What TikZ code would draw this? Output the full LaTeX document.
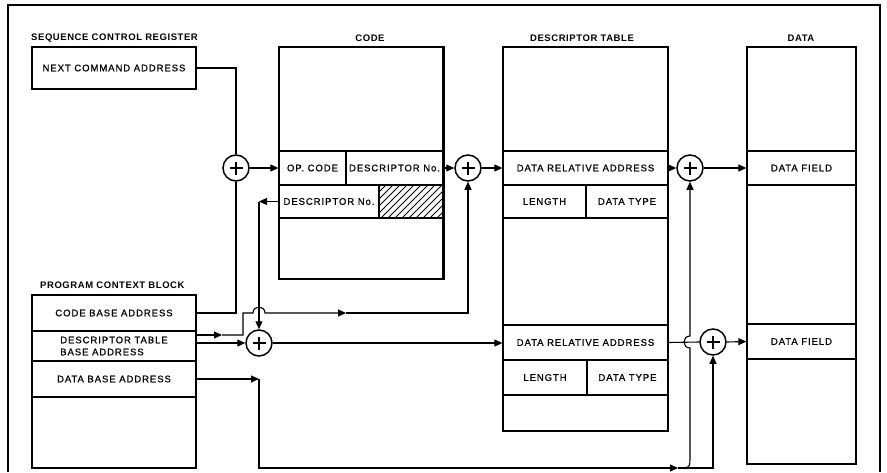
\documentclass[tikz,border=0pt]{standalone}
\usepackage{fontspec}
\setmainfont{Liberation Sans}
\newfontfamily\bodyfont{Liberation Sans}[LetterSpace=10,FakeBold=0.8]
\newfontfamily\titlefont{Liberation Sans}[LetterSpace=6]
\usetikzlibrary{arrows.meta}
\begin{document}
\begin{tikzpicture}[x=1pt,y=-1pt,
  box/.style={draw, line width=1.6pt, inner sep=0pt, font=\bodyfont\fontsize{9.5}{12}\selectfont, align=center},
  cell/.style={draw, line width=1.3pt, inner sep=0pt, font=\bodyfont\fontsize{9.5}{12}\selectfont, align=center},
  title/.style={inner sep=0pt, font=\titlefont\bfseries\fontsize{9.5}{11}\selectfont},
  conn/.style={line width=1.1pt},
  arr/.style={conn, -{Triangle[length=8pt,width=7pt]}},
  adder/.style={circle, draw, line width=1.5pt, minimum size=26pt, inner sep=0pt, fill=white,
    path picture={
      \draw[line width=1.8pt] ([xshift=-6.5pt]path picture bounding box.center) -- ([xshift=6.5pt]path picture bounding box.center);
      \draw[line width=1.8pt] ([yshift=-6.5pt]path picture bounding box.center) -- ([yshift=6.5pt]path picture bounding box.center);}}
]
\useasboundingbox (0,0) rectangle (887,472);
% frame
\draw[line width=1.6pt] (8,472) -- (8,5) -- (880,5) -- (880,472);

% titles
\node[title, anchor=west] (tscr) at (31,38) {SEQUENCE CONTROL REGISTER};
\node[title] (tcode) at (370,38) {CODE};
\node[title] (tdesc) at (582,38) {DESCRIPTOR TABLE};
\node[title] (tdata) at (801,38) {DATA};
\node[title, anchor=west] (tpcb) at (40,285) {PROGRAM CONTEXT BLOCK};

% sequence control register
\node[box, minimum width=164pt, minimum height=42pt] (nca) at (114,68) {NEXT COMMAND ADDRESS};

% code
\node[box, minimum width=164pt, minimum height=232pt] (code) at (361,163) {};
\node[cell, minimum width=67pt, minimum height=34pt] (opcode) at (312.5,168) {OP. CODE};
\node[cell, minimum width=97pt, minimum height=34pt] (descno1) at (394.5,168) {DESCRIPTOR No.};
\node[cell, minimum width=100pt, minimum height=33pt] (descno2) at (329,201.5) {DESCRIPTOR No.};
\node[cell, minimum width=64pt, minimum height=33pt] (hatch) at (411,201.5) {};
\begin{scope}
  \clip (hatch.south west) rectangle (hatch.north east);
  \foreach \k in {-40,-33,...,70}
    \draw[line width=0.8pt] ([xshift=\k pt]hatch.south west) -- ++(45:80pt);
\end{scope}
\draw[line width=1.3pt] (hatch.south west) rectangle (hatch.north east);
\draw[line width=1.6pt] (code.north east) -- (code.south east);

% descriptor table
\node[box, minimum width=165pt, minimum height=384pt] (desc) at (585.5,239) {};
\node[cell, minimum width=165pt, minimum height=34pt] (dra1) at (585.5,168) {DATA RELATIVE ADDRESS};
\node[cell, minimum width=83pt, minimum height=33pt] (len1) at (544.5,201.5) {LENGTH};
\node[cell, minimum width=82pt, minimum height=33pt] (dt1) at (627,201.5) {DATA TYPE};
\node[cell, minimum width=165pt, minimum height=35pt] (dra2) at (585.5,342.5) {DATA RELATIVE ADDRESS};
\node[cell, minimum width=84pt, minimum height=35pt] (len2) at (545,377.5) {LENGTH};
\node[cell, minimum width=81pt, minimum height=35pt] (dt2) at (627.5,377.5) {DATA TYPE};

% data
\node[box, minimum width=109pt, minimum height=417pt] (data) at (801.5,255.5) {};
\node[cell, minimum width=109pt, minimum height=34pt] (df1) at (801.5,168) {DATA FIELD};
\node[cell, minimum width=109pt, minimum height=35pt] (df2) at (801.5,341.5) {DATA FIELD};

% program context block
\node[box, minimum width=164pt, minimum height=173pt] (pcb) at (114,381.5) {};
\node[cell, minimum width=164pt, minimum height=36pt] (cba) at (114,313) {CODE BASE ADDRESS};
\node[cell, minimum width=164pt, minimum height=30pt, align=left] (dtba) at (114,346) {DESCRIPTOR TABLE\\BASE ADDRESS};
\node[cell, minimum width=164pt, minimum height=36pt] (dba) at (114,379) {DATA BASE ADDRESS};

% adders
\node[adder] (A1) at (236,168) {};
\node[adder] (A2) at (468,168) {};
\node[adder] (A3) at (690,168) {};
\node[adder] (A4) at (259,343) {};
\node[adder] (A5) at (713,342) {};

% coordinates
\coordinate (u1) at (222,335);
\coordinate (u2) at (243,335);
\coordinate (u3) at (243,313);
\coordinate (hopL) at (253,313);
\coordinate (hopR) at (265,313);
\coordinate (u4) at (346,313);
\coordinate (c2) at (259,201.5);
\coordinate (c3) at (259,379);
\coordinate (c4) at (259,468);
\coordinate (c5) at (678,468);
\coordinate (c6) at (713,468);
\coordinate (b1) at (690,456);
\coordinate (hb) at (690,348);
\coordinate (ht) at (690,336);

% connectors
\draw[conn] (nca.east) -| (A1.north);
\draw[conn] (cba.east) -| (A1.south);
\draw[arr] (A1.east) -- (opcode.west);
\draw[arr] (descno1.east) -- (A2.west);
\draw[arr] (A2.east) -- (dra1.west);
\draw[arr] (dra1.east) -- (A3.west);
\draw[arr] (A3.east) -- (df1.west);

\draw[arr] (dtba.east |- u1) -- (u1);
\draw[arr] (u1) -- (u2) -- (u3) -- (hopL) .. controls ([yshift=8pt]hopL) and ([yshift=8pt]hopR) .. (hopR) -- (u4);
\draw[arr] (u4) -| (A2.south);
\draw[arr] (dtba.east |- A4) -- (A4.west);

\draw[arr] (descno2.west) -- (c2);
\draw[arr] (c2) -- (A4.north);
\draw[arr] (A4.east) -- (A4.east -| dra2.west);
\draw[conn] (dra2.east) -- (A5.west);
\draw[arr] (A5.east) -- (df2.west);

\draw[arr] (dba.east) -- (c3);
\draw[arr] (c3) -- (c4) -- (c5);
\draw[arr] (c5) -- (c6) -- (A5.south);
\draw[arr] (c5) .. controls (b1 |- c5) .. (b1) -- (hb) .. controls ([xshift=-8pt]hb) and ([xshift=-8pt]ht) .. (ht) -- (A3.south);
\end{tikzpicture}
\end{document}
